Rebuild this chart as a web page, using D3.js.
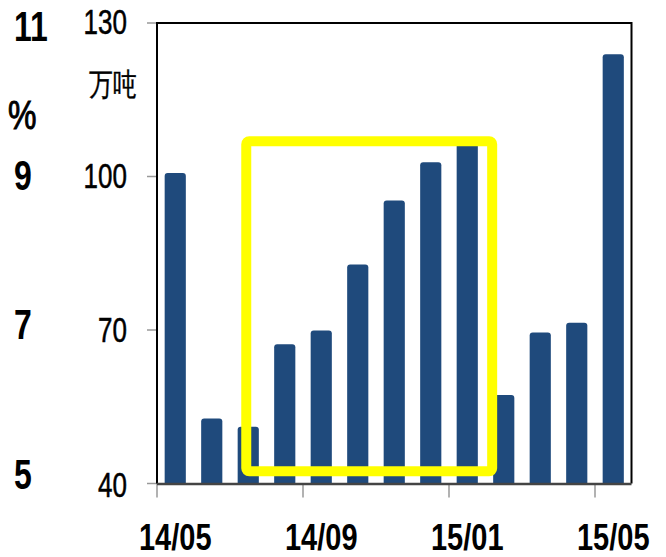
<!DOCTYPE html>
<html>
<head>
<meta charset="utf-8">
<script src="https://cdn.jsdelivr.net/npm/d3@7"></script>
<style>
  html, body { margin: 0; padding: 0; background: #fff; }
  svg { display: block; }
  text { font-family: "Liberation Sans", Arial, sans-serif; fill: #000; }
</style>
</head>
<body>
<svg id="chart" width="666" height="557"></svg>
<script>
// Monthly output (万吨), May 2014 – May 2015
const months = ["14/05","14/06","14/07","14/08","14/09","14/10","14/11","14/12","15/01","15/02","15/03","15/04","15/05"];
const output = [100.7, 52.7, 51.1, 67.2, 69.9, 82.8, 95.3, 102.8, 107.0, 57.3, 69.5, 71.4, 123.9];

// Axis ticks: primary (万吨) and secondary (%) share the same rows
const leftTicks = [40, 70, 100, 130];
const pctTicks = [5, 7, 9, 11];
const xTickLabels = ["14/05", "14/09", "15/01", "15/05"];

// Highlighted stretch of months
const highlightMonths = ["14/07", "15/01"];
const highlightRange = [42.4, 106.9];

const svg = d3.select("#chart");
const plot = { left: 157, right: 631.5, top: 23, bottom: 483.5 };

const x = d3.scaleBand()
  .domain(months)
  .range([plot.left, plot.right])
  .paddingInner(0.42)
  .paddingOuter(0.21);

const y = d3.scaleLinear()
  .domain([40, 130])
  .range([plot.bottom, plot.top]);

// vertical centres of the tick label rows
const yLabel = d3.scaleLinear().domain([40, 130]).range([484.5, 21.5]);
const pct = d3.scaleLinear().domain([5, 11]).range([474, 26]);

// Bars with slightly rounded tops
const r = 3;
function barPath(d, i) {
  const x0 = x(months[i]), w = x.bandwidth();
  const y0 = y(d), yb = y(40);
  return `M${x0},${yb} V${y0 + r} Q${x0},${y0} ${x0 + r},${y0} H${x0 + w - r} Q${x0 + w},${y0} ${x0 + w},${y0 + r} V${yb} Z`;
}
svg.append("g").selectAll("path")
  .data(output)
  .join("path")
  .attr("d", barPath)
  .attr("fill", "#1f4a7c");

// Y tick marks (grey, outside the axis)
svg.append("g").selectAll("line")
  .data(leftTicks)
  .join("line")
  .attr("x1", plot.left - 10).attr("x2", plot.left)
  .attr("y1", d => y(d)).attr("y2", d => y(d))
  .attr("stroke", "#999").attr("stroke-width", 1.5);

// X tick marks at the start of every fourth month
svg.append("g").selectAll("line")
  .data(xTickLabels)
  .join("line")
  .attr("x1", d => x(d) - x.step() * x.paddingOuter())
  .attr("x2", d => x(d) - x.step() * x.paddingOuter())
  .attr("y1", plot.bottom).attr("y2", plot.bottom + 14)
  .attr("stroke", "#999").attr("stroke-width", 1.5);

// Frame: left axis, top, right, bottom axis
const frame = svg.append("g").attr("fill", "none");
frame.append("path")
  .attr("d", `M${plot.left},${plot.bottom} V${plot.top} H${plot.right} V${plot.bottom}`)
  .attr("stroke", "#000").attr("stroke-width", 2);
frame.append("line")
  .attr("x1", plot.left).attr("x2", plot.right)
  .attr("y1", plot.bottom + 0.5).attr("y2", plot.bottom + 0.5)
  .attr("stroke", "#444").attr("stroke-width", 2.5);

// Left value labels (万吨)
svg.append("g").selectAll("text")
  .data(leftTicks)
  .join("text")
  .attr("transform", d => `translate(127,${yLabel(d) + 12}) scale(1,1.32)`)
  .attr("text-anchor", "end")
  .attr("font-size", 26)
  .attr("stroke", "#000").attr("stroke-width", 0.4)
  .text(d => d);

// Secondary percentage labels
svg.append("g").selectAll("text")
  .data(pctTicks)
  .join("text")
  .attr("transform", d => `translate(14,${pct(d) + 14.5}) scale(1,1.3)`)
  .attr("text-anchor", "start")
  .attr("font-size", 32)
  .attr("font-weight", "bold")
  .text(d => d);

// Unit labels
svg.append("text")
  .attr("transform", "translate(8,129) scale(1,1.25)")
  .attr("font-size", 32)
  .attr("stroke", "#000").attr("stroke-width", 0.8)
  .text("%");
svg.append("text")
  .attr("transform", "translate(89,95) scale(1,1.3)")
  .attr("font-family", "'Noto Sans CJK SC', sans-serif")
  .attr("font-size", 24)
  .attr("stroke", "#000").attr("stroke-width", 0.3)
  .text("万吨");

// X labels
svg.append("g").selectAll("text")
  .data(xTickLabels)
  .join("text")
  .attr("transform", d => `translate(${x(d) + x.bandwidth() / 2},550) scale(1,1.25)`)
  .attr("text-anchor", "middle")
  .attr("font-size", 29)
  .attr("font-weight", "bold")
  .text(d => d);

// Highlight box around the rising months
const hx0 = x(highlightMonths[0]) + x.bandwidth() / 2 - 2;
const hx1 = x(highlightMonths[1]) + x.bandwidth() + x.step() * x.paddingInner() - 1;
svg.append("rect")
  .attr("x", hx0)
  .attr("y", y(highlightRange[1]))
  .attr("width", hx1 - hx0)
  .attr("height", y(highlightRange[0]) - y(highlightRange[1]))
  .attr("rx", 3)
  .attr("fill", "none")
  .attr("stroke", "#ffff00")
  .attr("stroke-width", 10);
</script>
</body>
</html>
